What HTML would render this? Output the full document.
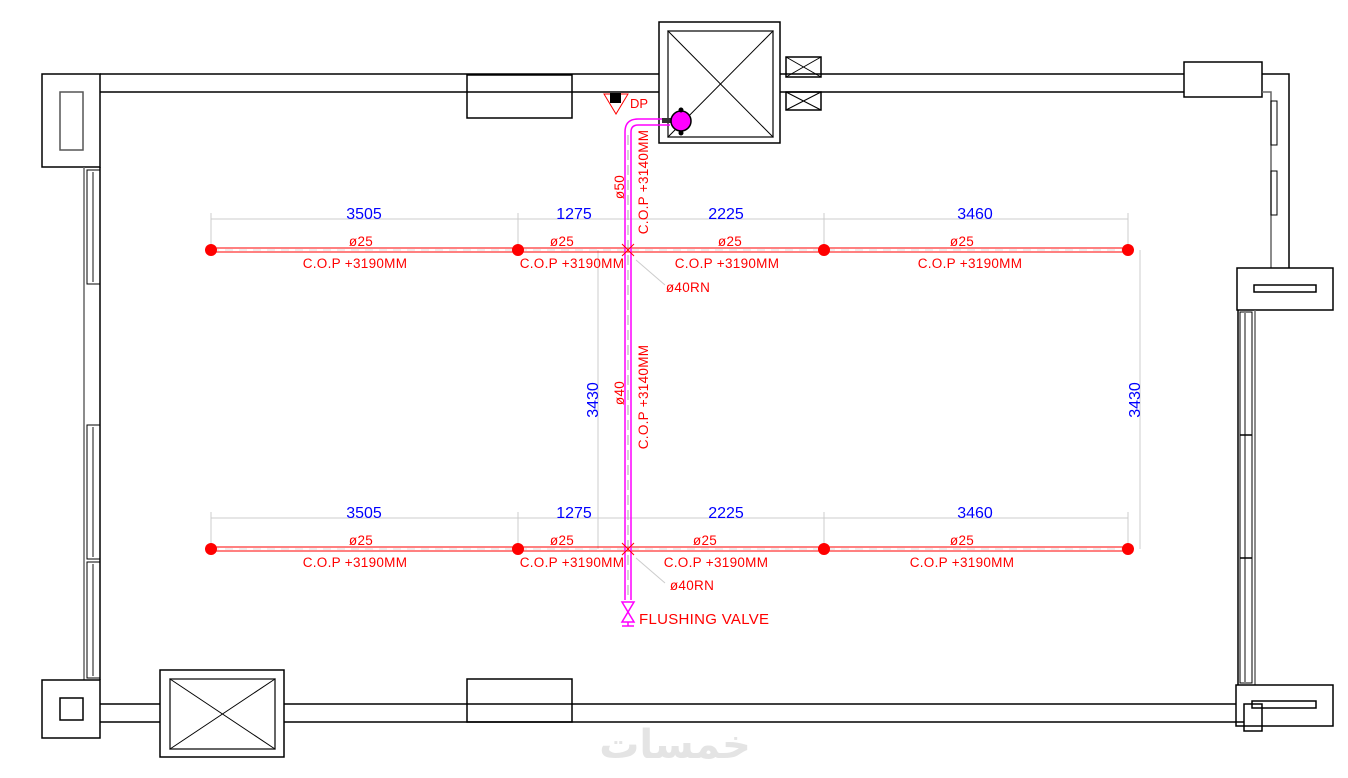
<!DOCTYPE html>
<html><head><meta charset="utf-8"><style>body{margin:0;background:#fff}svg{display:block}</style></head><body>
<svg width="1348" height="778" viewBox="0 0 1348 778" xmlns="http://www.w3.org/2000/svg" font-family="Liberation Sans, sans-serif">
<g fill="none" stroke="#000" stroke-width="1.5">
<polyline points="100,74 659,74"/><polyline points="100,92 659,92"/>
<polyline points="780,74 1184,74"/><polyline points="780,92 1184,92"/>
<rect x="42" y="74" width="58" height="93"/><rect x="60" y="92" width="23" height="58" stroke="#555"/>
<rect x="467" y="75" width="105" height="43"/>
<rect x="659" y="22" width="121" height="121"/><rect x="668" y="31" width="105" height="106" stroke="#333"/>
<line x1="668" y1="31" x2="773" y2="137" stroke-width="1"/><line x1="773" y1="31" x2="668" y2="137" stroke-width="1"/>
<rect x="786" y="57" width="35" height="20"/><line x1="786" y1="57" x2="821" y2="77" stroke-width="1"/><line x1="821" y1="57" x2="786" y2="77" stroke-width="1"/>
<rect x="786" y="92" width="35" height="18"/><line x1="786" y1="92" x2="821" y2="110" stroke-width="1"/><line x1="821" y1="92" x2="786" y2="110" stroke-width="1"/>
<rect x="1184" y="62" width="78" height="35"/>
<polyline points="1262,74 1289,74 1289,268"/><polyline points="1262,92 1271,92 1271,268" stroke="#666"/>
<rect x="1271" y="101" width="6" height="44" stroke-width="1"/><rect x="1271" y="171" width="6" height="44" stroke-width="1"/>
<rect x="1237" y="268" width="96" height="42"/><rect x="1254" y="285" width="62" height="7"/>
<line x1="1238" y1="310" x2="1238" y2="685"/><line x1="1255" y1="310" x2="1255" y2="685" stroke="#666"/>
<rect x="1240" y="312" width="12" height="371" stroke-width="1"/><line x1="1245" y1="312" x2="1245" y2="683" stroke="#888" stroke-width="2"/>
<line x1="1240" y1="435" x2="1252" y2="435"/><line x1="1240" y1="558" x2="1252" y2="558"/>
<rect x="1236" y="685" width="97" height="41"/><rect x="1252" y="701" width="64" height="7"/>
<rect x="1244" y="704" width="18" height="27"/>
<line x1="100" y1="167" x2="100" y2="680"/><line x1="84" y1="167" x2="84" y2="680" stroke="#666"/>
<rect x="87" y="170" width="13" height="114" stroke-width="1"/><line x1="93" y1="172" x2="93" y2="282" stroke="#888" stroke-width="2"/>
<rect x="87" y="425" width="13" height="134" stroke-width="1"/><line x1="93" y1="427" x2="93" y2="557" stroke="#888" stroke-width="2"/>
<rect x="87" y="562" width="13" height="116" stroke-width="1"/><line x1="93" y1="564" x2="93" y2="676" stroke="#888" stroke-width="2"/>
<rect x="42" y="680" width="58" height="58"/><rect x="60" y="698" width="23" height="22"/>
<line x1="100" y1="704" x2="160" y2="704"/><line x1="100" y1="722" x2="160" y2="722"/>
<rect x="160" y="670" width="124" height="87"/><rect x="170" y="679" width="105" height="70" stroke="#333"/>
<line x1="170" y1="679" x2="275" y2="749" stroke-width="1"/><line x1="275" y1="679" x2="170" y2="749" stroke-width="1"/>
<line x1="284" y1="704" x2="1236" y2="704"/><line x1="284" y1="722" x2="1244" y2="722"/>
<rect x="467" y="679" width="105" height="43"/>
</g>
<polygon points="604,94 628,94 616,114" fill="none" stroke="red"/><rect x="610" y="93" width="11" height="10" fill="#000"/>
<text x="630" y="108" fill="red" font-size="13">DP</text>
<g stroke="#ccc" stroke-width="1">
<line x1="211" y1="219" x2="1128" y2="219"/><line x1="211" y1="518" x2="1128" y2="518"/>
<line x1="211" y1="213" x2="211" y2="250"/><line x1="518" y1="213" x2="518" y2="250"/><line x1="824" y1="213" x2="824" y2="250"/><line x1="1128" y1="213" x2="1128" y2="250"/>
<line x1="211" y1="512" x2="211" y2="549"/><line x1="518" y1="512" x2="518" y2="549"/><line x1="824" y1="512" x2="824" y2="549"/><line x1="1128" y1="512" x2="1128" y2="549"/>
<line x1="598" y1="250" x2="598" y2="549"/><line x1="1140" y1="250" x2="1140" y2="549"/>
<line x1="636" y1="260" x2="665" y2="285"/><line x1="636" y1="558" x2="665" y2="583"/>
</g>
<g fill="blue" font-size="16" text-anchor="middle">
<text x="364" y="219">3505</text><text x="574" y="219">1275</text><text x="726" y="219">2225</text><text x="975" y="219">3460</text>
<text x="364" y="518">3505</text><text x="574" y="518">1275</text><text x="726" y="518">2225</text><text x="975" y="518">3460</text>
<text transform="translate(598,400) rotate(-90)">3430</text><text transform="translate(1140,400) rotate(-90)">3430</text>
</g>
<g stroke="red"><line x1="211" y1="248" x2="1128" y2="248"/><line x1="211" y1="252" x2="1128" y2="252"/>
<line x1="211" y1="547" x2="1128" y2="547"/><line x1="211" y1="551" x2="1128" y2="551"/></g>
<line x1="211" y1="250" x2="1128" y2="250" stroke="#ddd" stroke-dasharray="8,6"/>
<line x1="211" y1="549" x2="1128" y2="549" stroke="#ddd" stroke-dasharray="8,6"/>
<g fill="red"><circle cx="211" cy="250" r="6"/><circle cx="518" cy="250" r="6"/><circle cx="824" cy="250" r="6"/><circle cx="1128" cy="250" r="6"/>
<circle cx="211" cy="549" r="6"/><circle cx="518" cy="549" r="6"/><circle cx="824" cy="549" r="6"/><circle cx="1128" cy="549" r="6"/></g>
<g fill="red" font-size="13.5" text-anchor="middle" letter-spacing="0.3">
<text x="361" y="246">ø25</text><text x="562" y="246">ø25</text><text x="730" y="246">ø25</text><text x="962" y="246">ø25</text>
<text x="355" y="268">C.O.P +3190MM</text><text x="572" y="268">C.O.P +3190MM</text><text x="727" y="268">C.O.P +3190MM</text><text x="970" y="268">C.O.P +3190MM</text>
<text x="361" y="545">ø25</text><text x="562" y="545">ø25</text><text x="705" y="545">ø25</text><text x="962" y="545">ø25</text>
<text x="355" y="567">C.O.P +3190MM</text><text x="572" y="567">C.O.P +3190MM</text><text x="716" y="567">C.O.P +3190MM</text><text x="962" y="567">C.O.P +3190MM</text>
<text x="688" y="292">ø40RN</text><text x="692" y="590">ø40RN</text>
<text x="639" y="624" text-anchor="start" font-size="15">FLUSHING VALVE</text>
<text transform="translate(624,187) rotate(-90)">ø50</text>
<text transform="translate(648,182) rotate(-90)">C.O.P +3140MM</text>
<text transform="translate(624,393) rotate(-90)">ø40</text>
<text transform="translate(648,397) rotate(-90)">C.O.P +3140MM</text>
</g>
<g fill="none" stroke="magenta" stroke-width="1.5">
<path d="M625,600 L625,132 Q625,119 638,119 L670,119"/><path d="M631,600 L631,132 Q631,125 638,125 L670,125"/>
<polygon points="622,602 634,602 628,612"/><polygon points="622,622 634,622 628,612"/><line x1="622" y1="626" x2="634" y2="626"/><line x1="628" y1="622" x2="628" y2="626"/>
</g>
<line x1="628" y1="135" x2="628" y2="600" stroke="#aaa" stroke-dasharray="10,5"/>
<rect x="662" y="118" width="10" height="5" fill="#333"/>
<circle cx="681" cy="121" r="10" fill="magenta" stroke="#000" stroke-width="1.5"/>
<circle cx="681" cy="110" r="2.5" fill="#000"/><circle cx="681" cy="133" r="2.5" fill="#000"/>
<g stroke="red" fill="none"><path d="M622,244 L634,256 M634,244 L622,256"/><path d="M622,543 L634,555 M634,543 L622,555"/></g>
<text x="675" y="758" fill="#e4e4e4" font-size="40" text-anchor="middle" font-family="DejaVu Sans, sans-serif" font-weight="bold">خمسات</text>
</svg>
</body></html>
